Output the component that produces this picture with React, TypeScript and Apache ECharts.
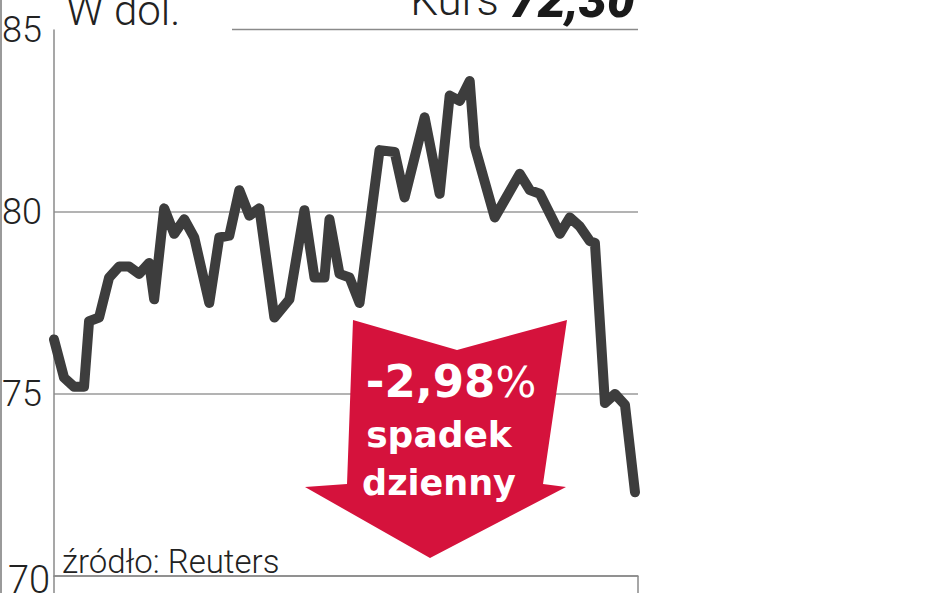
import React, { useEffect, useRef } from "react";
import * as echarts from "echarts";

// trading-day index (x) and price in USD (y)
const days = [0, 2, 4, 6, 7, 9, 11, 13, 15, 17, 19, 20, 22, 24, 26, 28, 31, 33, 35, 37, 39, 41, 44, 47, 50, 52, 54, 55, 57, 59, 61, 65, 68, 70, 74, 77, 79, 81, 83, 84, 88, 93, 95, 97, 101, 103, 105, 107, 108, 110, 112, 114, 116];
const prices = [76.5, 75.45, 75.2, 75.2, 77.0, 77.1, 78.2, 78.5, 78.5, 78.3, 78.6, 77.6, 80.1, 79.4, 79.8, 79.3, 77.5, 79.3, 79.35, 80.6, 79.9, 80.1, 77.1, 77.6, 80.05, 78.2, 78.2, 79.8, 78.3, 78.2, 77.5, 81.7, 81.65, 80.4, 82.6, 80.5, 83.2, 83.05, 83.6, 81.8, 79.85, 81.05, 80.6, 80.5, 79.4, 79.85, 79.6, 79.2, 79.15, 74.75, 75.0, 74.7, 72.3];
const yTicks = [70, 75, 80, 85];
const titleUnit = "W dol.";
const titleKurs = "Kurs ";
const lastPrice = "72,30";
const changeLabel = "-2,98";
const changeWords = ["spadek", "dzienny"];
const sourceLabel = "źródło: Reuters";

export default function App() {
  const ref = useRef<HTMLDivElement>(null);
  useEffect(() => {
    if (!ref.current) return;
    document.body.style.margin = "0";
    const chart = echarts.init(ref.current, null, { renderer: "svg" });
    const data = days.map((d, i) => [d, prices[i]]);
    const light = "Roboto";
    chart.setOption({
      animation: false,
      backgroundColor: "#ffffff",
      grid: { left: 54, right: 310, top: 30, bottom: 17, containLabel: false, outerBoundsMode: "none" },
      xAxis: {
        type: "value",
        min: 0,
        max: 116.6,
        axisLine: { show: true, onZero: false, lineStyle: { color: "#8a8a8a", width: 1.5 } },
        axisTick: { show: false },
        axisLabel: { show: false },
        splitLine: { show: false },
      },
      yAxis: {
        type: "value",
        min: yTicks[0],
        max: yTicks[yTicks.length - 1],
        interval: 5,
        axisLine: { show: true, lineStyle: { color: "#8a8a8a", width: 1.5 } },
        axisTick: { show: false },
        splitLine: {
          show: true,
          lineStyle: { color: ["#8a8a8a", "#9a9a9a", "#9a9a9a", "rgba(0,0,0,0)"], width: 1.5 },
        },
        axisLabel: {
          align: "left",
          margin: 52,
          fontFamily: light,
          fontWeight: 300,
          fontSize: 36,
          color: "#222",
          formatter: (v: number) => (v === yTicks[0] ? `{low|${v}}` : `${v}`),
          rich: { low: { padding: [8, 0, 0, 6], fontFamily: light, fontWeight: 300, fontSize: 38, color: "#222" } },
        },
      },
      graphic: [
        { type: "rect", shape: { x: 0, y: 0, width: 2, height: 593 }, style: { fill: "#9a9a9a" } },
        { type: "line", shape: { x1: 232, y1: 29.5, x2: 638, y2: 29.5 }, style: { stroke: "#8a8a8a", lineWidth: 1.5 } },
        { type: "line", shape: { x1: 54, y1: 576, x2: 54, y2: 593 }, style: { stroke: "#8a8a8a", lineWidth: 1.5 } },
        { type: "line", shape: { x1: 638, y1: 576, x2: 638, y2: 593 }, style: { stroke: "#8a8a8a", lineWidth: 1.5 } },
        {
          type: "text",
          x: 66,
          y: 31,
          style: { text: titleUnit, fontFamily: light, fontWeight: 300, fontSize: 42, fill: "#222", verticalAlign: "bottom" },
          z: 10,
        },
        {
          type: "text",
          x: 635,
          y: 25,
          style: {
            text: `{k|${titleKurs}}{v|${lastPrice}}`,
            align: "right",
            verticalAlign: "bottom",
            rich: {
              k: { fontFamily: light, fontWeight: 300, fontSize: 44, fill: "#222", color: "#222" },
              v: { fontFamily: light, fontWeight: 900, fontStyle: "italic", fontSize: 50, fill: "#1a1a1a", color: "#1a1a1a" },
            },
          },
          z: 10,
        },
        {
          type: "polygon",
          shape: {
            points: [
              [353, 320], [457, 350], [567, 320], [543, 484], [566, 487], [430, 558], [305, 487], [347, 484],
            ],
          },
          style: { fill: "#d5123c" },
          z: 5,
        },
        {
          type: "text",
          x: 451,
          y: 404,
          style: {
            text: `{a|${changeLabel}}{b|%}`,
            align: "center",
            verticalAlign: "bottom",
            rich: {
              a: { fontFamily: "DejaVu Sans", fontWeight: "bold", fontSize: 45, fill: "#ffffff", color: "#ffffff" },
              b: { fontFamily: "DejaVu Sans", fontWeight: "normal", fontSize: 43, fill: "#ffffff", color: "#ffffff" },
            },
          },
          z: 6,
        },
        {
          type: "text",
          x: 439,
          y: 452,
          style: { text: changeWords[0], align: "center", verticalAlign: "bottom", fontFamily: "DejaVu Sans", fontWeight: "bold", fontSize: 36, fill: "#ffffff" },
          z: 6,
        },
        {
          type: "text",
          x: 439,
          y: 500,
          style: { text: changeWords[1], align: "center", verticalAlign: "bottom", fontFamily: "DejaVu Sans", fontWeight: "bold", fontSize: 35, fill: "#ffffff" },
          z: 6,
        },
        {
          type: "text",
          x: 62,
          y: 578,
          style: { text: sourceLabel, verticalAlign: "bottom", fontFamily: light, fontWeight: 300, fontSize: 33, fill: "#222" },
          z: 6,
        },
      ],
      series: [
        {
          type: "line",
          data,
          showSymbol: false,
          symbol: "none",
          lineStyle: { color: "#3d3d3d", width: 10, join: "round", cap: "round" },
          z: 3,
        },
      ],
    });
    return () => chart.dispose();
  }, []);
  return <div ref={ref} style={{ position: "absolute", left: 0, top: 0, width: 948, height: 593 }} />;
}
